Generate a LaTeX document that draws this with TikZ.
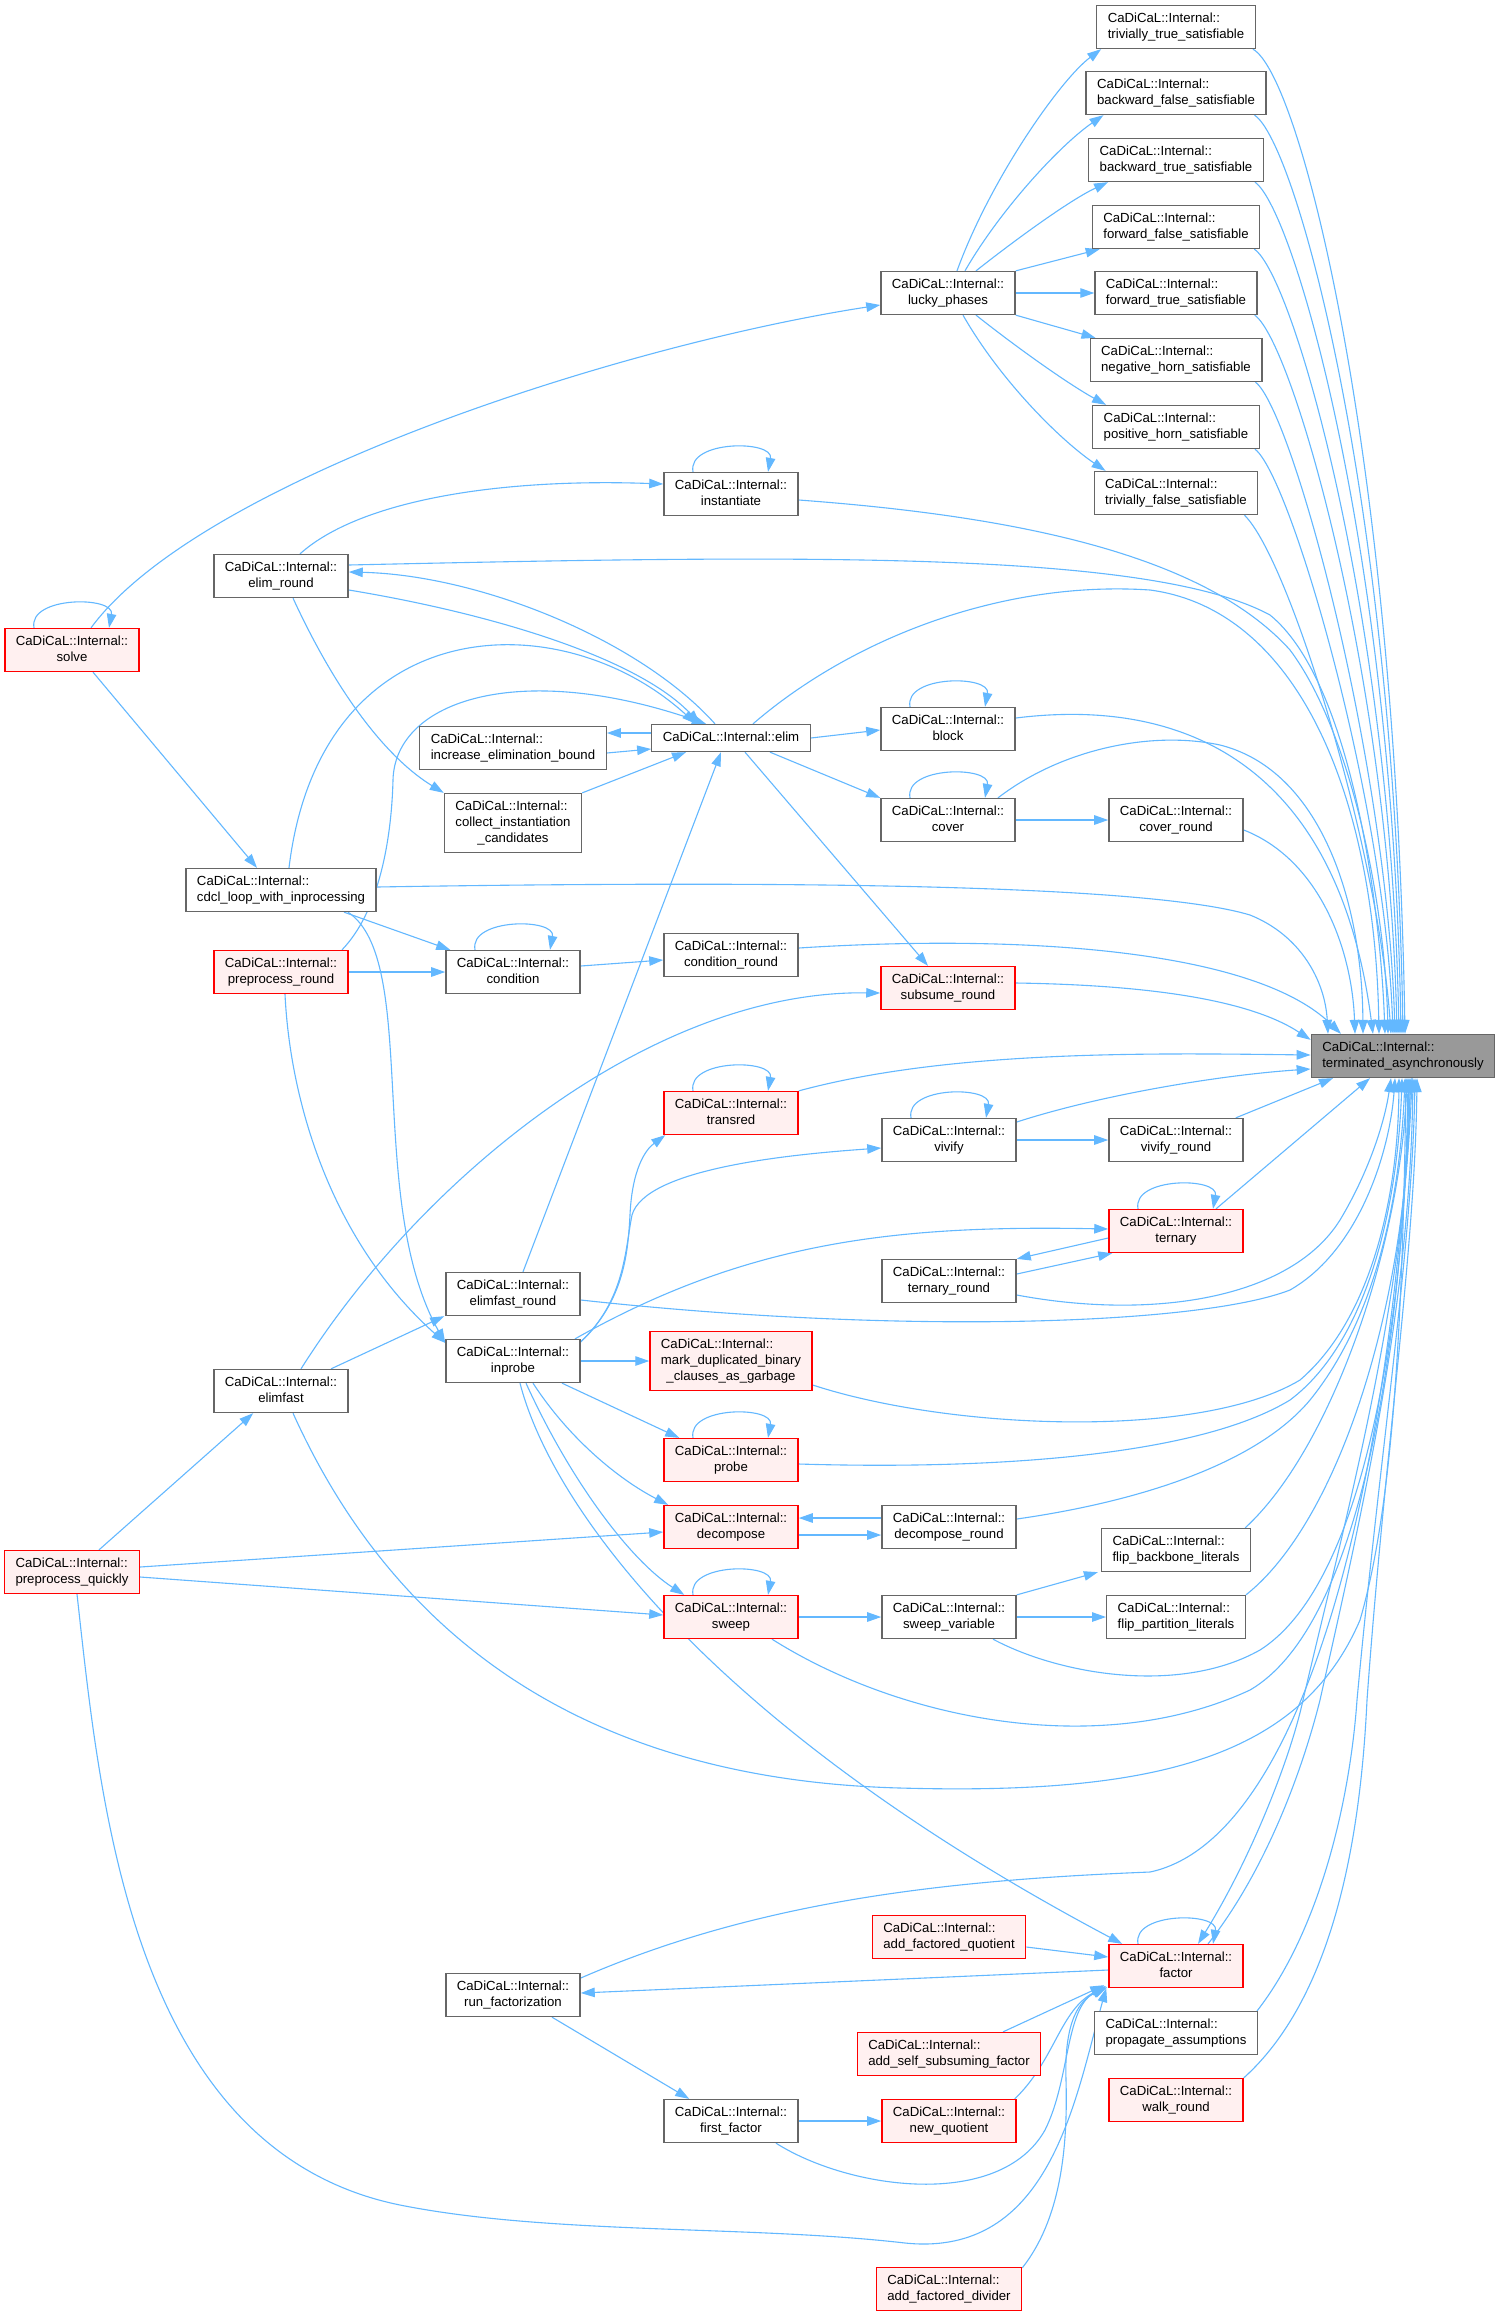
\documentclass[tikz,border=0pt]{standalone}
\usepackage{fontspec}
\setmainfont{Liberation Sans}
\usetikzlibrary{arrows.meta}
\pgfdeclarelayer{bg}
\pgfsetlayers{bg,main}
\definecolor{edgec}{HTML}{63B8FF}
\definecolor{gborder}{HTML}{666666}
\definecolor{rfill}{HTML}{FFF0F0}
\definecolor{tfill}{HTML}{999999}
\newcommand{\cdlab}[1]{\begin{tabular}{@{}l@{}}CaDiCaL::Internal::\\\multicolumn{1}{@{}c@{}}{#1}\end{tabular}}
\newcommand{\cdlabt}[2]{\begin{tabular}{@{}l@{}}CaDiCaL::Internal::\\#1\\\multicolumn{1}{@{}c@{}}{#2}\end{tabular}}
\begin{document}
\begin{tikzpicture}[x=1pt,y=-1pt,
  font=\fontsize{13.2}{16}\selectfont,
  nbox/.style={draw=gborder, fill=white, line width=1.3pt, inner xsep=11pt, inner ysep=5.5pt},
  rbox/.style={nbox, draw=red, fill=rfill},
  tbox/.style={nbox, fill=tfill},
  conn/.style={draw=edgec, line width=1.1pt, -{Triangle[length=14pt,width=9.5pt]}}]
\begin{pgfonlayer}{bg}
\fill[white] (0,0) rectangle (1499,2316);
\end{pgfonlayer}
\useasboundingbox (0,0) rectangle (1499,2316);

% nodes
\node[tbox] (T) at (1403,1056) {\cdlab{terminated\_asynchronously}};
\node[nbox] (tts) at (1176,27) {\cdlab{trivially\_true\_satisfiable}};
\node[nbox] (bfs) at (1176,93) {\cdlab{backward\_false\_satisfiable}};
\node[nbox] (bts) at (1176,160) {\cdlab{backward\_true\_satisfiable}};
\node[nbox] (ffs) at (1176,227) {\cdlab{forward\_false\_satisfiable}};
\node[nbox] (fts) at (1176,293) {\cdlab{forward\_true\_satisfiable}};
\node[nbox] (nhs) at (1176,360) {\cdlab{negative\_horn\_satisfiable}};
\node[nbox] (phs) at (1176,427) {\cdlab{positive\_horn\_satisfiable}};
\node[nbox] (tfs) at (1176,493) {\cdlab{trivially\_false\_satisfiable}};
\node[nbox] (lucky) at (948,293) {\cdlab{lucky\_phases}};
\node[nbox] (inst) at (731,494) {\cdlab{instantiate}};
\node[nbox] (elimround) at (281,576) {\cdlab{elim\_round}};
\node[rbox] (solve) at (72,650) {\cdlab{solve}};
\node[nbox] (elim) at (731,738) {\strut CaDiCaL::Internal::elim};
\node[nbox] (ieb) at (513,748) {\cdlab{increase\_elimination\_bound}};
\node[nbox] (block) at (948,729) {\cdlab{block}};
\node[nbox] (collect) at (513,823) {\cdlabt{collect\_instantiation}{\_candidates}};
\node[nbox] (cover) at (948,820) {\cdlab{cover}};
\node[nbox] (coverround) at (1176,820) {\cdlab{cover\_round}};
\node[nbox] (cdcl) at (281,890) {\cdlab{cdcl\_loop\_with\_inprocessing}};
\node[nbox] (condround) at (731,955) {\cdlab{condition\_round}};
\node[rbox] (prepround) at (281,972) {\cdlab{preprocess\_round}};
\node[nbox] (condition) at (513,972) {\cdlab{condition}};
\node[rbox] (subsume) at (948,988) {\cdlab{subsume\_round}};
\node[rbox] (transred) at (731,1113) {\cdlab{transred}};
\node[nbox] (vivify) at (949,1140) {\cdlab{vivify}};
\node[nbox] (vivifyround) at (1176,1140) {\cdlab{vivify\_round}};
\node[rbox] (ternary) at (1176,1231) {\cdlab{ternary}};
\node[nbox] (ternaryround) at (949,1281) {\cdlab{ternary\_round}};
\node[nbox] (elimfastround) at (513,1294) {\cdlab{elimfast\_round}};
\node[nbox] (inprobe) at (513,1361) {\cdlab{inprobe}};
\node[rbox] (mark) at (731,1361) {\cdlabt{mark\_duplicated\_binary}{\_clauses\_as\_garbage}};
\node[nbox] (elimfast) at (281,1391) {\cdlab{elimfast}};
\node[rbox] (probe) at (731,1460) {\cdlab{probe}};
\node[rbox] (decompose) at (731,1527) {\cdlab{decompose}};
\node[nbox] (decompround) at (949,1527) {\cdlab{decompose\_round}};
\node[nbox] (flipbb) at (1176,1550) {\cdlab{flip\_backbone\_literals}};
\node[rbox] (prepquick) at (72,1572) {\cdlab{preprocess\_quickly}};
\node[rbox] (sweep) at (731,1617) {\cdlab{sweep}};
\node[nbox] (sweepvar) at (949,1617) {\cdlab{sweep\_variable}};
\node[nbox] (flippart) at (1176,1617) {\cdlab{flip\_partition\_literals}};
\node[rbox] (afq) at (949,1937) {\cdlab{add\_factored\_quotient}};
\node[rbox] (factor) at (1176,1966) {\cdlab{factor}};
\node[nbox] (runfact) at (513,1995) {\cdlab{run\_factorization}};
\node[nbox] (propassump) at (1176,2033) {\cdlab{propagate\_assumptions}};
\node[rbox] (assf) at (949,2054) {\cdlab{add\_self\_subsuming\_factor}};
\node[rbox] (walk) at (1176,2100) {\cdlab{walk\_round}};
\node[nbox] (firstfactor) at (731,2121) {\cdlab{first\_factor}};
\node[rbox] (newq) at (949,2121) {\cdlab{new\_quotient}};
\node[rbox] (afd) at (949,2289) {\cdlab{add\_factored\_divider}};

\begin{pgfonlayer}{bg}
% self loops
\foreach \n in {solve,inst,block,cover,condition,transred,vivify,ternary,probe,sweep,factor}{
  \draw[conn] ([xshift=-38pt]\n.north) .. controls +(-6,-32) and +(6,-32) .. ([xshift=37pt]\n.north);
}

% lucky_phases fan
\draw[conn] ([xshift=9pt]lucky.north) .. controls (990,180) and (1060,80) .. ([xshift=5pt]tts.south west);
\draw[conn] ([xshift=17pt]lucky.north) .. controls (1000,210) and (1060,145) .. ([xshift=18pt]bfs.south west);
\draw[conn] ([xshift=28pt]lucky.north) .. controls (1015,240) and (1070,200) .. ([xshift=20pt]bts.south west);
\draw[conn] (lucky.north east) -- ([xshift=8pt]ffs.south west);
\draw[conn] (lucky.east) -- (fts.west);
\draw[conn] (lucky.south east) -- ([xshift=6pt]nhs.north west);
\draw[conn] ([xshift=28pt]lucky.south) .. controls (1020,350) and (1070,385) .. ([xshift=14pt]phs.north west);
\draw[conn] ([xshift=15pt]lucky.south) .. controls (1000,380) and (1060,440) .. ([xshift=12pt]tfs.north west);

% satisfiable -> T
\draw[conn] ([xshift=-3pt]tts.south east) .. controls (1300,75) and (1395,450) .. ([xshift=2pt]T.north);
\draw[conn] ([xshift=-12pt]bfs.south east) .. controls (1296,142) and (1394,500) .. ([xshift=0pt]T.north);
\draw[conn] ([xshift=-9pt]bts.south east) .. controls (1295,210) and (1393,560) .. ([xshift=-2pt]T.north);
\draw[conn] ([xshift=-6pt]ffs.south east) .. controls (1294,276) and (1391,620) .. ([xshift=-4pt]T.north);
\draw[conn] ([xshift=-3pt]fts.south east) .. controls (1293,342) and (1389,680) .. ([xshift=-6pt]T.north);
\draw[conn] ([xshift=-7pt]nhs.south east) .. controls (1292,410) and (1387,760) .. ([xshift=-8pt]T.north);
\draw[conn] ([xshift=-5pt]phs.south east) .. controls (1290,475) and (1385,800) .. ([xshift=-10pt]T.north);
\draw[conn] ([xshift=-14pt]tfs.south east) .. controls (1290,560) and (1378,850) .. ([xshift=-12pt]T.north);

% solve
\draw[conn] ([xshift=19pt]solve.north) .. controls (200,480) and (620,345) .. ([yshift=-12pt]lucky.west);
\draw[conn] ([xshift=21pt]solve.south) -- ([xshift=-24pt]cdcl.north);

% instantiate
\draw[conn] ([xshift=19pt]elimround.north) .. controls (360,500) and (500,478) .. ([yshift=10pt]inst.west);
\draw[conn] ([yshift=-6pt]inst.east) .. controls (1000,515) and (1200,550) .. (1290,650) .. controls (1350,730) and (1385,900) .. ([xshift=-15pt]T.north);

% elim_round
\draw[conn] ([yshift=11pt]elimround.east) .. controls (800,555) and (1150,550) .. (1270,615) .. controls (1350,680) and (1380,900) .. ([xshift=-18pt]T.north);
\draw[conn] ([xshift=-16pt]elim.north) .. controls (640,640) and (480,575) .. ([yshift=4pt]elimround.east);
\draw[conn] ([yshift=-14pt]elimround.east) .. controls (500,615) and (640,660) .. ([xshift=-31pt]elim.north);
\draw[conn] ([xshift=12pt]elimround.south) .. controls (340,700) and (390,760) .. (collect.north west);

% into elim
\draw[conn] ([xshift=8pt]cdcl.north) .. controls (320,610) and (560,600) .. ([xshift=-35pt]elim.north);
\draw[conn] ([xshift=61pt]prepround.north) .. controls (385,905) and (392,820) .. (393,780) .. controls (395,700) and (520,660) .. ([xshift=-25pt]elim.north);
\draw[conn] ([yshift=5pt]elim.west) -- ([yshift=15pt]ieb.east);
\draw[conn] ([yshift=-5pt]ieb.east) -- ([yshift=-11pt]elim.west);
\draw[conn] (collect.north east) -- ([xshift=-45pt]elim.south);
\draw[conn] ([xshift=10pt]elimfastround.north) -- ([xshift=-10pt]elim.south);

% out of elim
\draw[conn] (elim.east) -- ([yshift=-1pt]block.west);
\draw[conn] ([xshift=39pt]elim.south) -- (cover.north west);
\draw[conn] ([xshift=14pt]elim.south) -- ([xshift=-20pt]subsume.north);
\draw[conn] ([xshift=22pt]elim.north) .. controls (850,640) and (1000,580) .. (1150,590) .. controls (1300,610) and (1375,800) .. ([xshift=-24pt]T.north);

% block, cover
\draw[conn] ([yshift=11pt]block.east) .. controls (1200,695) and (1340,780) .. ([xshift=-30pt]T.north);
\draw[conn] (cover.east) -- (coverround.west);
\draw[conn] ([xshift=50pt]cover.north) .. controls (1060,750) and (1150,730) .. (1220,745) .. controls (1320,770) and (1362,900) .. ([xshift=-40pt]T.north);
\draw[conn] ([yshift=-10pt]coverround.east) .. controls (1320,860) and (1352,950) .. ([xshift=-48pt]T.north);

% cdcl, preprocess_round, condition
\draw[conn] ([yshift=3pt]cdcl.east) .. controls (800,880) and (1150,885) .. (1250,915) .. controls (1300,935) and (1325,980) .. ([xshift=-75pt]T.north);
\draw[conn] ([xshift=63pt]cdcl.south) -- ([xshift=5pt]condition.north west);
\draw[conn] ([xshift=67pt]cdcl.south) .. controls (420,960) and (365,1200) .. ([yshift=-4pt]inprobe.north west);
\draw[conn] ([xshift=4pt]prepround.south) .. controls (290,1100) and (330,1240) .. ([yshift=-4pt]inprobe.north west);
\draw[conn] (prepround.east) -- (condition.west);
\draw[conn] ([yshift=6pt]condition.east) -- ([yshift=-5pt]condround.west);
\draw[conn] ([yshift=7pt]condround.east) .. controls (1000,935) and (1250,945) .. ([xshift=-62pt]T.north);

% subsume
\draw[conn] ([xshift=20pt]elimfast.north) .. controls (420,1180) and (650,990) .. ([yshift=-5pt]subsume.west);
\draw[conn] ([yshift=5pt]subsume.east) .. controls (1150,985) and (1250,1000) .. ([yshift=-6pt]T.north west);

% transred, vivify
\draw[conn] ([yshift=-3pt]inprobe.north east) .. controls (625,1300) and (628,1250) .. (630,1215) .. controls (632,1170) and (645,1150) .. ([xshift=2pt]transred.south west);
\draw[conn] ([yshift=-3pt]inprobe.north east) .. controls (625,1300) and (625,1250) .. (632,1215) .. controls (645,1170) and (780,1155) .. ([yshift=-8pt]vivify.west);
\draw[conn] (transred.north east) .. controls (950,1050) and (1150,1053) .. ([yshift=1pt]T.west);
\draw[conn] (vivify.east) -- (vivifyround.west);
\draw[conn] ([yshift=18pt]vivify.east) .. controls (1100,1095) and (1220,1075) .. ([yshift=-13pt]T.west);
\draw[conn] ([xshift=-8pt]vivifyround.north east) -- ([xshift=-70pt]T.south);

% ternary
\draw[conn] ([xshift=62pt]inprobe.north) .. controls (750,1240) and (900,1225) .. ([yshift=2pt]ternary.west);
\draw[conn] ([yshift=-7pt]ternary.west) -- (ternaryround.north east);
\draw[conn] ([yshift=7pt]ternaryround.east) -- ([xshift=4pt]ternary.south west);
\draw[conn] ([xshift=40pt]ternary.north) -- ([xshift=-33pt]T.south);
\draw[conn] ([yshift=-14pt]ternaryround.east) .. controls (1150,1320) and (1290,1300) .. (1340,1220) .. controls (1370,1170) and (1385,1120) .. ([xshift=-12pt]T.south);

% elimfast_round
\draw[conn] ([xshift=50pt]elimfast.north) -- ([xshift=-1pt]elimfastround.south west);
\draw[conn] ([yshift=-6pt]elimfastround.east) .. controls (900,1335) and (1200,1325) .. (1290,1290) .. controls (1360,1250) and (1390,1150) .. ([xshift=-8pt]T.south);

% inprobe children
\draw[conn] (inprobe.east) -- (mark.west);
\draw[conn] ([yshift=-24pt]mark.east) .. controls (950,1430) and (1200,1440) .. (1300,1380) .. controls (1370,1320) and (1398,1200) .. ([xshift=-4pt]T.south);
\draw[conn] ([xshift=49pt]inprobe.south) -- ([xshift=16pt]probe.north west);
\draw[conn] ([yshift=-4pt]probe.east) .. controls (1000,1470) and (1200,1455) .. (1290,1400) .. controls (1370,1340) and (1398,1200) .. ([xshift=-1pt]T.south);
\draw[conn] ([xshift=20pt]inprobe.south) .. controls (570,1440) and (620,1480) .. ([xshift=5pt]decompose.north west);
\draw[conn] ([xshift=13pt]inprobe.south) .. controls (570,1480) and (630,1560) .. ([xshift=21pt]sweep.north west);
\draw[conn] ([xshift=7pt]inprobe.south) .. controls (550,1500) and (700,1720) .. ([xshift=14pt]factor.north west);

% decompose
\draw[conn] ([yshift=9pt]decompround.west) -- ([yshift=9pt]decompose.east);
\draw[conn] ([yshift=-8pt]decompose.east) -- ([yshift=-8pt]decompround.west);
\draw[conn] ([yshift=5pt]prepquick.east) -- ([yshift=-5pt]decompose.west);
\draw[conn] ([yshift=8pt]decompround.east) .. controls (1150,1500) and (1260,1460) .. (1310,1400) .. controls (1375,1320) and (1400,1200) .. ([xshift=2pt]T.south);

% sweep
\draw[conn] ([yshift=-5pt]prepquick.east) -- ([yshift=2pt]sweep.west);
\draw[conn] (sweep.east) -- (sweepvar.west);
\draw[conn] (sweepvar.east) -- (flippart.west);
\draw[conn] (sweepvar.north east) -- ([xshift=-3pt]flipbb.south west);
\draw[conn] ([xshift=-6pt]flipbb.north east) .. controls (1330,1450) and (1400,1250) .. ([xshift=4pt]T.south);
\draw[conn] (flippart.north east) .. controls (1340,1520) and (1408,1300) .. ([xshift=7pt]T.south);
\draw[conn] ([xshift=41pt]sweep.south) .. controls (900,1720) and (1100,1760) .. (1250,1690) .. controls (1370,1620) and (1405,1300) .. ([xshift=5pt]T.south);
\draw[conn] ([xshift=44pt]sweepvar.south) .. controls (1060,1675) and (1180,1695) .. (1260,1650) .. controls (1370,1580) and (1405,1300) .. ([xshift=6pt]T.south);

% elimfast
\draw[conn] ([xshift=27pt]prepquick.north) -- ([xshift=40pt]elimfast.south west);
\draw[conn] ([xshift=12pt]elimfast.south) .. controls (400,1650) and (600,1780) .. (900,1788) .. controls (1150,1795) and (1300,1760) .. (1360,1620) .. controls (1395,1500) and (1403,1300) .. ([xshift=3pt]T.south);

% factorization
\draw[conn] ([yshift=-4pt]factor.west) -- ([yshift=2pt]runfact.east);
\draw[conn] ([yshift=17pt]runfact.east) .. controls (760,1900) and (950,1880) .. (1150,1872) .. controls (1300,1840) and (1390,1500) .. ([xshift=8pt]T.south);
\draw[conn] ([yshift=-10pt]afq.east) -- ([yshift=9pt]factor.west);
\draw[conn] ([xshift=9pt]T.south) .. controls (1405,1300) and (1350,1500) .. (1303,1700) .. controls (1290,1760) and (1250,1860) .. ([xshift=22pt]factor.north);
\draw[conn] ([xshift=32pt]factor.north) .. controls (1270,1865) and (1305,1760) .. (1320,1700) .. controls (1365,1500) and (1410,1300) .. ([xshift=10pt]T.south);
\draw[conn] ([xshift=39pt]runfact.south) -- ([xshift=26pt]firstfactor.north west);
\draw[conn] (firstfactor.east) -- (newq.west);
\draw[conn] ([xshift=54pt]assf.north) -- ([xshift=-4pt,yshift=3pt]factor.south west);
\draw[conn] ([xshift=-2pt]newq.north east) .. controls (1055,2060) and (1060,2010) .. ([xshift=-2pt,yshift=2pt]factor.south west);
\draw[conn] ([xshift=45pt]firstfactor.south) .. controls (850,2190) and (1000,2210) .. (1045,2130) .. controls (1070,2080) and (1065,2010) .. ([xshift=-3pt,yshift=2pt]factor.south west);
\draw[conn] ([xshift=5pt]prepquick.south) .. controls (100,1800) and (130,2150) .. (400,2205) .. controls (550,2235) and (750,2225) .. (905,2243) .. controls (1050,2258) and (1075,2100) .. ([xshift=-2pt]factor.south west);
\draw[conn] ([yshift=-1pt]afd.north east) .. controls (1060,2220) and (1068,2150) .. (1066,2080) .. controls (1064,2020) and (1080,2000) .. ([xshift=-1pt,yshift=1pt]factor.south west);
\draw[conn] ([xshift=-1pt]propassump.north east) .. controls (1320,1930) and (1350,1800) .. (1357,1700) .. controls (1380,1450) and (1412,1250) .. ([xshift=12pt]T.south);
\draw[conn] (walk.north east) .. controls (1330,2000) and (1360,1850) .. (1367,1700) .. controls (1385,1450) and (1415,1250) .. ([xshift=14pt]T.south);
\end{pgfonlayer}
\end{tikzpicture}
\end{document}
